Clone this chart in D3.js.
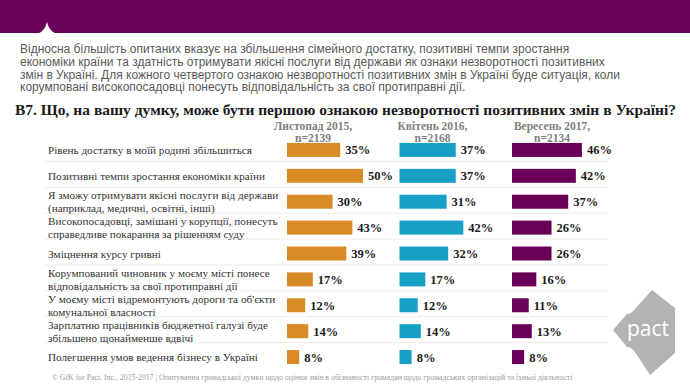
<!DOCTYPE html>
<html>
<head>
<meta charset="utf-8">
<script src="https://cdn.jsdelivr.net/npm/d3@7"></script>
<style>
  body { margin: 0; background: #fff; }
  svg { display: block; }
  .para { font-family: "Liberation Sans", Arial, sans-serif; font-size: 12px; fill: #595959; }
  .title { font-family: "Liberation Serif", Georgia, serif; font-size: 15.5px; font-weight: bold; fill: #1a1a1a; }
  .colhead { font-family: "Liberation Serif", Georgia, serif; font-size: 11.5px; font-weight: bold; fill: #7f7f7f; }
  .cat { font-family: "Liberation Serif", Georgia, serif; font-size: 11.2px; fill: #333; }
  .val { font-family: "Liberation Serif", Georgia, serif; font-size: 12.5px; font-weight: bold; fill: #1a1a1a; }
  .foot { font-family: "Liberation Serif", Georgia, serif; font-size: 7.8px; fill: #9a9a9a; }
</style>
</head>
<body>
<script>
var CATEGORIES = [
    'Рівень достатку в моїй родині збільшиться',
    'Позитивні темпи зростання економіки країни',
    'Я зможу отримувати якісні послуги від держави\n(наприклад, медичні, освітні, інші)',
    'Високопосадовці, замішані у корупції, понесуть\nсправедливе покарання за рішенням суду',
    'Зміцнення курсу гривні',
    'Корумпований чиновник у моєму місті понесе\nвідповідальність за свої протиправні дії',
    'У моєму місті відремонтують дороги та об\'єкти\nкомунальної власності',
    'Зарплатню працівників бюджетної галузі буде\nзбільшено щонайменше вдвічі',
    'Полегшення умов ведення бізнесу в Україні'
];
var SERIES = ['Листопад 2015,\nn=2139', 'Квітень 2016,\nn=2168', 'Вересень 2017,\nn=2134'];
var NOV_2015 = [35, 50, 30, 43, 39, 17, 12, 14, 8];
var APR_2016 = [37, 37, 31, 42, 32, 17, 12, 14, 8];
var SEP_2017 = [46, 42, 37, 26, 26, 16, 11, 13, 8];
var COLORS = ['#d98a26', '#17a0c6', '#6b0058'];

var PARAGRAPH = [
    'Відносна більшість опитаних вказує на збільшення сімейного достатку, позитивні темпи зростання',
    'економіки країни та здатність отримувати якісні послуги від держави як ознаки незворотності позитивних',
    'змін в Україні. Для кожного четвертого ознакою незворотності позитивних змін в Україні буде ситуація, коли',
    'корумповані високопосадовці понесуть відповідальність за свої протиправні дії.'
];
var TITLE = 'B7. Що, на вашу думку, може бути першою ознакою незворотності позитивних змін в Україні?';
var FOOTER = '© GfK for Pact. Inc., 2015-2017 | Опитування громадської думки щодо оцінки змін в обізнаності громадян щодо громадських організацій та їхньої діяльності';

var W = 690, H = 388;
var svg = d3.select('body').append('svg').attr('width', W).attr('height', H);

// header band with notch
svg.append('rect').attr('x', 0).attr('y', 0).attr('width', W).attr('height', 33).attr('fill', '#6b0058');
svg.append('path').attr('d', 'M38,33.5 Q45,31 47,22 Q49,31 56,33.5 Z').attr('fill', '#fff');

svg.append('g').selectAll('text')
    .data(PARAGRAPH)
    .enter().append('text')
        .attr('class', 'para')
        .attr('x', 20)
        .attr('y', function(d, i) { return 53 + i * 12.8; })
        .text(function(d) { return d; });

svg.append('text').attr('class', 'title').attr('x', 15).attr('y', 115).text(TITLE);

var data = [NOV_2015, APR_2016, SEP_2017];

var x = d3.scaleLinear().domain([0, 100]).range([0, 152]);
var y = d3.scaleBand().domain(d3.range(CATEGORIES.length)).range([137, 370]);
var col = d3.scalePoint().domain(d3.range(SERIES.length)).range([287, 512]);
var head = d3.scalePoint().domain(d3.range(SERIES.length)).range([313, 552]);

// separators
svg.append('g').selectAll('line')
    .data(d3.range(1, CATEGORIES.length))
    .enter().append('line')
        .attr('x1', 45).attr('x2', 608)
        .attr('y1', function(d) { return y(d) - 1.5; })
        .attr('y2', function(d) { return y(d) - 1.5; })
        .attr('stroke', '#ececec').attr('stroke-width', 1);

// column headers
SERIES.forEach(function(s, i) {
    var t = svg.append('text').attr('class', 'colhead').attr('text-anchor', 'middle');
    s.split('\n').forEach(function(line, j) {
        t.append('tspan').attr('x', head(i)).attr('y', 129.5 + j * 12).text(line);
    });
});

// category labels
CATEGORIES.forEach(function(c, i) {
    var lines = c.split('\n');
    var cy = y(i) + y.bandwidth() / 2;
    var t = svg.append('text').attr('class', 'cat');
    lines.forEach(function(line, j) {
        t.append('tspan')
            .attr('x', 48)
            .attr('y', cy + 4 + (j - (lines.length - 1) / 2) * 13)
            .text(line);
    });
});

// bars and values
data.forEach(function(vals, si) {
    var g = svg.append('g');
    g.selectAll('rect')
        .data(vals)
        .enter().append('rect')
            .attr('x', col(si))
            .attr('y', function(d, i) { return y(i) + y.bandwidth() / 2 - 7; })
            .attr('width', function(d) { return x(d); })
            .attr('height', 14)
            .attr('fill', COLORS[si]);
    g.selectAll('text')
        .data(vals)
        .enter().append('text')
            .attr('class', 'val')
            .attr('x', function(d) { return col(si) + x(d) + 5; })
            .attr('y', function(d, i) { return y(i) + y.bandwidth() / 2 + 4.5; })
            .text(function(d) { return d + '%'; });
});

svg.append('text').attr('class', 'foot').attr('x', 52).attr('y', 380).text(FOOTER);

// pact logo
svg.append('path')
    .attr('d', 'M652,290 L675,308 L675,353 L650,375 L635,352 Q631,347 627,347 L613,330 L627,314 Q631,314 635,309 Z')
    .attr('fill', '#b3b3b3');
svg.append('text')
    .attr('x', 648).attr('y', 336)
    .attr('text-anchor', 'middle')
    .attr('font-family', '"Open Sans", sans-serif')
    .attr('font-size', 21)
    .attr('fill', '#fff')
    .text('pact');
</script>
</body>
</html>
